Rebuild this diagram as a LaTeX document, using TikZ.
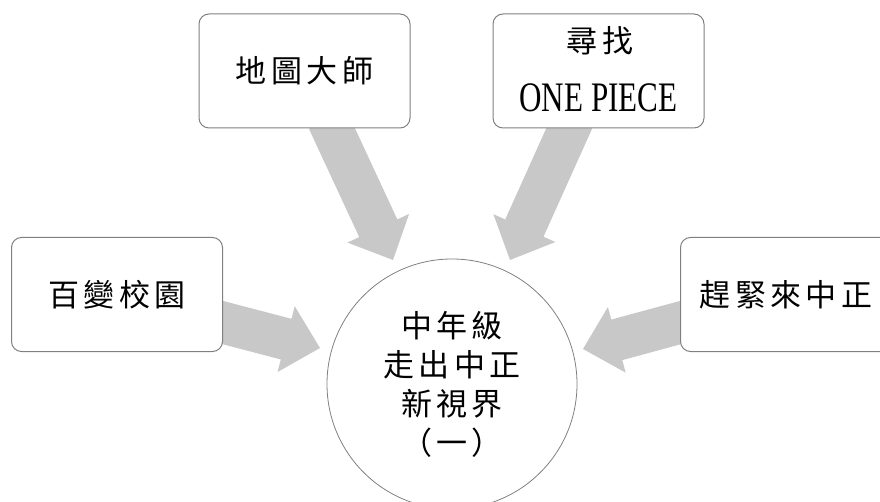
\documentclass[tikz,border=0pt]{standalone}
\usepackage{fontspec}
\newfontfamily\kai[LetterSpace=14]{Noto Sans CJK TC}
\newfontfamily\latinser[FakeStretch=0.74]{Liberation Serif}
\usetikzlibrary{calc}
\definecolor{arrowgray}{RGB}{200,200,200}
\definecolor{edgegray}{RGB}{128,128,128}
\tikzset{
  roundbox/.style={draw=edgegray, line width=1pt, fill=white, rounded corners=10pt,
    minimum width=211pt, minimum height=114pt, inner sep=0pt, align=center,
    font=\kai\fontsize{31}{39}\selectfont},
  hubcircle/.style={draw=edgegray, line width=0.8pt, fill=white, circle,
    minimum size=250pt, inner sep=0pt, align=center,
    font=\kai\fontsize{31}{39}\selectfont},
  blockarrow/.style={fill=arrowgray, draw=none}
}
\newcommand\BlockArrow[2]{%
  \fill[blockarrow]
    ($(#1)!21pt!90:(#2)$) --
    ($($(#2)!35pt!(#1)$)!21pt!-90:(#1)$) --
    ($($(#2)!35pt!(#1)$)!34pt!-90:(#1)$) --
    (#2) --
    ($($(#2)!35pt!(#1)$)!34pt!90:(#1)$) --
    ($($(#2)!35pt!(#1)$)!21pt!90:(#1)$) --
    ($(#1)!21pt!-90:(#2)$) -- cycle;}
\begin{document}
\begin{tikzpicture}[x=1pt,y=-1pt]
\useasboundingbox (0,0) rectangle (880,502);
% arrow anchor points (start slightly inside each box)
\coordinate (s1) at (328,120); \coordinate (t1) at (393,260);
\coordinate (s2) at (573,120); \coordinate (t2) at (510,260);
\coordinate (s3) at (213,320); \coordinate (t3) at (320,348);
\coordinate (s4) at (690,320); \coordinate (t4) at (583,349);
\BlockArrow{s1}{t1}
\BlockArrow{s2}{t2}
\BlockArrow{s3}{t3}
\BlockArrow{s4}{t4}
% boxes
\node[roundbox] (b1) at (304.5,71) {地圖大師};
\node[roundbox] (b2) at (598.5,71) {};
\node[font=\kai\fontsize{31}{39}\selectfont] (b2a) at (600,41) {尋找};
\node[font=\latinser\fontsize{42}{44}\selectfont] (b2b) at (598.5,98) {ONE PIECE};
\node[roundbox] (b3) at (117,294.5) {百變校園};
\node[roundbox] (b4) at (786,294.5) {趕緊來中正};
% hub
\node[hubcircle] (hub) at (452,384) {中年級\\走出中正\\新視界\\（一）};
\end{tikzpicture}
\end{document}
